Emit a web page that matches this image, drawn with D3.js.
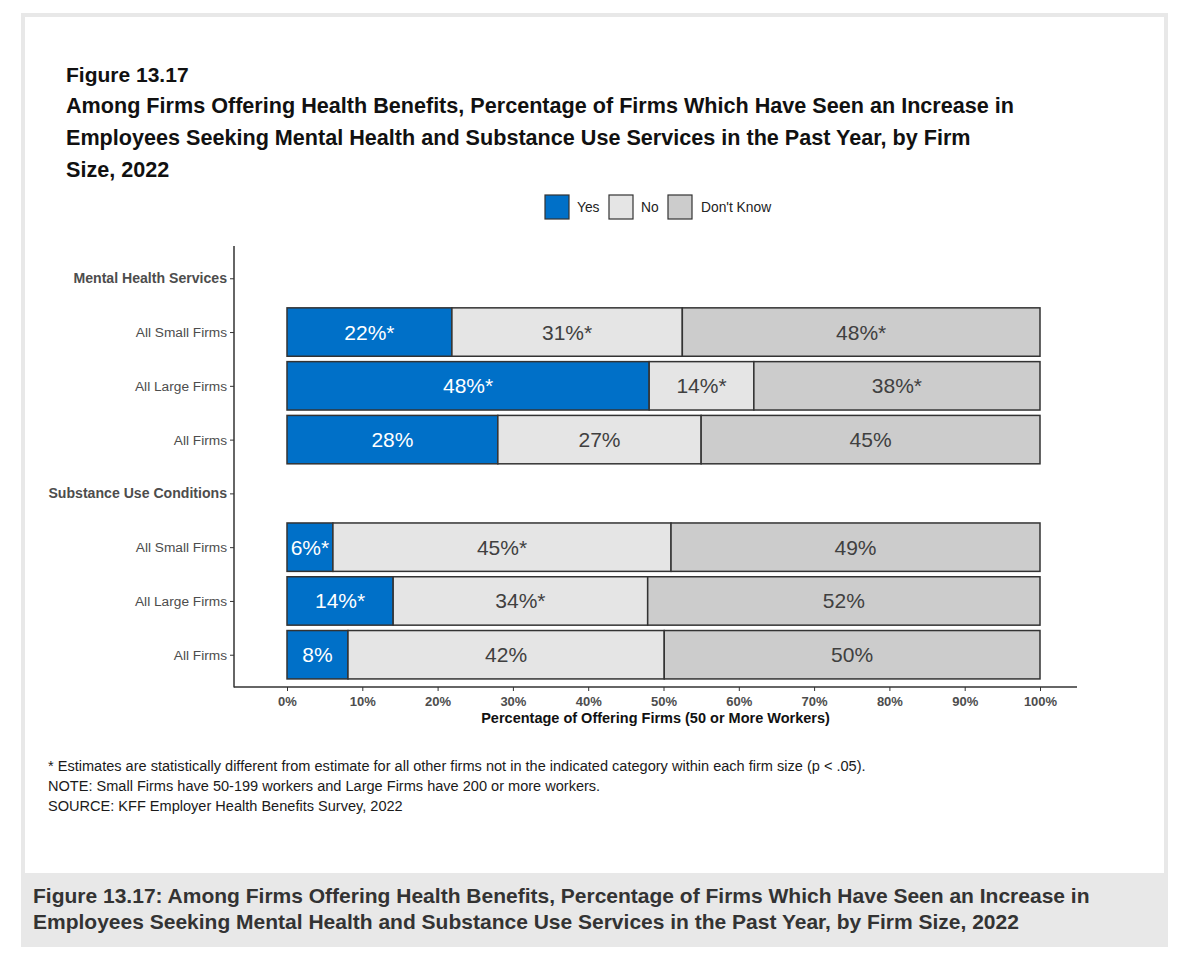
<!DOCTYPE html>
<html>
<head>
<meta charset="utf-8">
<script src="https://cdn.jsdelivr.net/npm/d3@7"></script>
<style>
  body { margin: 0; background: #fff; }
  text { font-family: "Liberation Sans", Arial, sans-serif; }
</style>
</head>
<body>
<svg id="chart" width="1186" height="967"></svg>
<script>
// rows, top to bottom (group headers have no bar)
var rowKeys = ["mh", "mhSmall", "mhLarge", "mhAll", "su", "suSmall", "suLarge", "suAll"];
var rowLabels = ["Mental Health Services", "All Small Firms", "All Large Firms", "All Firms",
  "Substance Use Conditions", "All Small Firms", "All Large Firms", "All Firms"];
var headerRows = ["mh", "su"];

var barRows = ["mhSmall", "mhLarge", "mhAll", "suSmall", "suLarge", "suAll"];
var yesValues = [21.9, 48.1, 28.0, 6.1, 14.1, 8.1];
var noValues = [30.6, 13.9, 27.0, 44.9, 33.8, 42.0];
var dkValues = [47.5, 38.0, 45.0, 49.0, 52.1, 49.9];
var yesStars = [true, true, false, true, true, false];
var noStars = [true, true, false, true, true, false];
var dkStars = [true, true, false, false, false, false];

var seriesNames = ["Yes", "No", "Don't Know"];
var seriesColors = ["#0070c8", "#e5e5e5", "#cccccc"];
var xTicks = [0, 10, 20, 30, 40, 50, 60, 70, 80, 90, 100];

var titleLines = [
  "Among Firms Offering Health Benefits, Percentage of Firms Which Have Seen an Increase in",
  "Employees Seeking Mental Health and Substance Use Services in the Past Year, by Firm",
  "Size, 2022"
];
var notes = [
  "* Estimates are statistically different from estimate for all other firms not in the indicated category within each firm size (p < .05).",
  "NOTE: Small Firms have 50-199 workers and Large Firms have 200 or more workers.",
  "SOURCE: KFF Employer Health Benefits Survey, 2022"
];
var captionLines = [
  "Figure 13.17: Among Firms Offering Health Benefits, Percentage of Firms Which Have Seen an Increase in",
  "Employees Seeking Mental Health and Substance Use Services in the Past Year, by Firm Size, 2022"
];

var svg = d3.select("#chart");

// page frame + caption strip
svg.append("rect").attr("x", 21).attr("y", 13).attr("width", 1147).attr("height", 934).attr("fill", "#e8e8e8");
svg.append("rect").attr("x", 25).attr("y", 17).attr("width", 1139).attr("height", 856).attr("fill", "#fff");

svg.selectAll(".caption").data(captionLines).enter().append("text")
  .attr("x", 33).attr("y", function (d, i) { return 903 + i * 26; })
  .style("font-size", "21px").style("font-weight", "bold").style("fill", "#333")
  .text(function (d) { return d; });

// titles
svg.append("text").attr("x", 66).attr("y", 82)
  .style("font-size", "21px").style("font-weight", "bold").style("fill", "#111")
  .text("Figure 13.17");
svg.selectAll(".title").data(titleLines).enter().append("text")
  .attr("x", 66).attr("y", function (d, i) { return 113 + i * 32; })
  .style("font-size", "21.6px").style("font-weight", "bold").style("fill", "#111")
  .text(function (d) { return d; });

// legend
var legX = [545, 609, 668];
var leg = svg.selectAll(".leg").data(seriesNames).enter().append("g")
  .attr("transform", function (d, i) { return "translate(" + legX[i] + ",195)"; });
leg.append("rect").attr("width", 24).attr("height", 24)
  .attr("fill", function (d, i) { return seriesColors[i]; })
  .attr("stroke", "#333").attr("stroke-width", 1.2);
leg.append("text").attr("x", function (d, i) { return i == 2 ? 33 : 32; }).attr("y", 17)
  .style("font-size", "13.8px").style("fill", "#222")
  .text(function (d) { return d; });

// scales
var panelL = 234, panelR = 1077, panelT = 246, panelB = 687;
var x = d3.scaleLinear().domain([0, 100]).range([287, 1040]);
var y = d3.scalePoint().domain(rowKeys).range([panelT, panelB]).padding(0.6);
var barH = y.step() * 0.9;

// y axis
var yAxis = d3.axisLeft(y).tickSize(4).tickFormat(function (d, i) { return rowLabels[i]; });
var gy = svg.append("g").attr("transform", "translate(" + panelL + ",0)").call(yAxis);
gy.select(".domain").remove();
gy.selectAll(".tick line").attr("stroke", "#333");
gy.selectAll(".tick text")
  .attr("x", -7)
  .style("font-family", "Liberation Sans, Arial, sans-serif")
  .style("font-size", function (d) { return headerRows.includes(d) ? "14.1px" : "13.7px"; })
  .style("font-weight", function (d) { return headerRows.includes(d) ? "bold" : "normal"; })
  .style("fill", "#4d4d4d");

// x axis
var xAxis = d3.axisBottom(x).tickValues(xTicks).tickSize(4).tickFormat(function (d) { return d + "%"; });
var gx = svg.append("g").attr("transform", "translate(0," + panelB + ")").call(xAxis);
gx.select(".domain").remove();
gx.selectAll(".tick line").attr("stroke", "#333");
gx.selectAll(".tick text")
  .attr("y", 10)
  .style("font-family", "Liberation Sans Narrow, Liberation Sans, Arial, sans-serif")
  .style("font-size", "13px").style("font-weight", "bold").style("fill", "#4d4d4d");

svg.append("line").attr("x1", panelL).attr("x2", panelL).attr("y1", panelT).attr("y2", panelB + 0.5)
  .attr("stroke", "#333").attr("stroke-width", 1.5);
svg.append("line").attr("x1", panelL).attr("x2", panelR).attr("y1", panelB).attr("y2", panelB)
  .attr("stroke", "#333").attr("stroke-width", 1.5);

svg.append("text").attr("x", (panelL + panelR) / 2).attr("y", 723)
  .attr("text-anchor", "middle")
  .style("font-family", "Liberation Sans Narrow, Liberation Sans, Arial, sans-serif")
  .style("font-size", "14.5px").style("font-weight", "bold").style("fill", "#111")
  .text("Percentage of Offering Firms (50 or More Workers)");

// stacked bars
var table = barRows.map(function (k, i) {
  return { key: k, yes: yesValues[i], no: noValues[i], dk: dkValues[i],
    stars: [yesStars[i], noStars[i], dkStars[i]] };
});
var stack = d3.stack().keys(["yes", "no", "dk"])(table);

var layer = svg.selectAll(".layer").data(stack).enter().append("g")
  .attr("fill", function (d, i) { return seriesColors[i]; });

layer.selectAll("rect").data(function (d) { return d; }).enter().append("rect")
  .attr("x", function (d) { return x(d[0]); })
  .attr("width", function (d) { return x(d[1]) - x(d[0]); })
  .attr("y", function (d) { return y(d.data.key) - barH / 2; })
  .attr("height", barH)
  .attr("stroke", "#333").attr("stroke-width", 1.5);

layer.each(function (s, si) {
  d3.select(this).selectAll("text").data(s).enter().append("text")
    .attr("x", function (d) { return (x(d[0]) + x(d[1])) / 2; })
    .attr("y", function (d) { return y(d.data.key) + 7.5; })
    .attr("text-anchor", "middle")
    .style("font-size", "21px")
    .style("fill", si == 0 ? "#fff" : "#404040")
    .text(function (d) {
      return Math.round(d[1] - d[0]) + "%" + (d.data.stars[si] ? "*" : "");
    });
});

// notes
svg.selectAll(".note").data(notes).enter().append("text")
  .attr("x", 48).attr("y", function (d, i) { return 771 + i * 20; })
  .style("font-size", "14.55px").style("fill", "#1a1a1a")
  .text(function (d) { return d; });
</script>
</body>
</html>
